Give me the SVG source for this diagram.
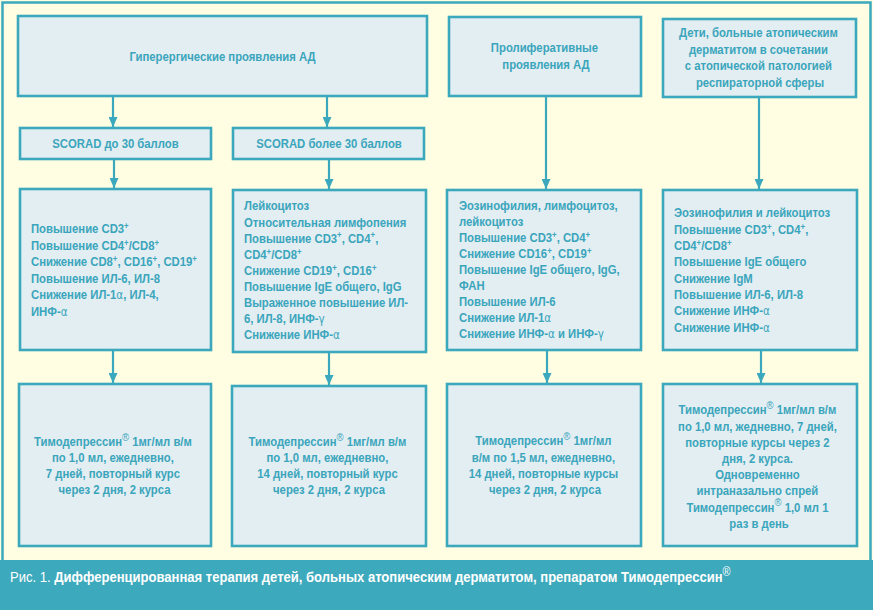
<svg xmlns="http://www.w3.org/2000/svg" width="873" height="610" viewBox="0 0 873 610">
<defs>
<style>
.bg{fill:#FFFEE2}
.frame{fill:none;stroke:#3BA8BD;stroke-width:2.5}
.band{fill:#3DA9BD}
.box{fill:#E3EEF2;stroke:#3BA8BD;stroke-width:2.6}
.t{font-family:"Liberation Sans",Arial,sans-serif;font-weight:bold;font-size:13px;fill:#3AA5BC}
.c{text-anchor:middle}
.sup{font-size:9px;baseline-shift:4px}
.reg{font-size:11px;font-weight:normal;baseline-shift:5px}
.gr{font-family:"DejaVu Sans",sans-serif;font-weight:normal;font-size:12px}
.cap{font-family:"Liberation Sans",Arial,sans-serif;font-size:14.5px;fill:#FFFFFF}
.conn line{stroke:#3BA8BD;stroke-width:2.2}
</style>
<marker id="ah" markerUnits="userSpaceOnUse" markerWidth="10" markerHeight="9" refX="10" refY="4.5" orient="auto">
<path d="M0,0 L10,4.5 L0,9 z" fill="#3BA8BD"/>
</marker>
</defs>
<rect class="bg" x="0" y="0" width="873" height="610"/>
<rect class="frame" x="2.5" y="2.5" width="868" height="560"/>
<rect class="band" x="0" y="560" width="873" height="50"/>

<g id="connectors" class="conn">
<line x1="113" y1="96" x2="113" y2="127" marker-end="url(#ah)"/>
<line x1="327" y1="96" x2="327" y2="127" marker-end="url(#ah)"/>
<line x1="114" y1="159" x2="114" y2="188" marker-end="url(#ah)"/>
<line x1="329" y1="159" x2="329" y2="189" marker-end="url(#ah)"/>
<line x1="546" y1="96" x2="546" y2="189" marker-end="url(#ah)"/>
<line x1="759" y1="97" x2="759" y2="189" marker-end="url(#ah)"/>
<line x1="113" y1="350" x2="113" y2="383" marker-end="url(#ah)"/>
<line x1="329" y1="352" x2="329" y2="385" marker-end="url(#ah)"/>
<line x1="547" y1="350" x2="547" y2="383" marker-end="url(#ah)"/>
<line x1="761" y1="350" x2="761" y2="383" marker-end="url(#ah)"/>
</g>

<g id="n1">
<rect class="box" x="18" y="16" width="409" height="80"/>
<g transform="translate(222.5,0) scale(0.87,1)"><text class="t c" x="0" y="61.5">Гиперергические проявления АД</text></g>
</g>
<g id="n2">
<rect class="box" x="20" y="128" width="191" height="31"/>
<g transform="translate(115.5,0) scale(0.87,1)"><text class="t c" x="0" y="148">SCORAD до 30 баллов</text></g>
</g>
<g id="n3">
<rect class="box" x="233" y="128" width="191" height="31"/>
<g transform="translate(329,0) scale(0.87,1)"><text class="t c" x="0" y="148">SCORAD более 30 баллов</text></g>
</g>
<g id="n8">
<rect class="box" x="449" y="17" width="192" height="79"/>
<g transform="translate(546,0) scale(0.87,1)"><text class="t c">
<tspan x="0" y="52.5">Пролиферативные</tspan>
<tspan x="0" y="69.5">проявления АД</tspan></text></g>
</g>
<g id="n9">
<rect class="box" x="663" y="19" width="193" height="78"/>
<g transform="translate(760,0) scale(0.87,1)"><text class="t c">
<tspan x="0" y="37.5">Дети, больные атопическим</tspan>
<tspan x="0" y="54">дерматитом в сочетании</tspan>
<tspan x="0" y="70.5">с атопической патологией</tspan>
<tspan x="0" y="87">респираторной сферы</tspan></text></g>
</g>

<g id="n4">
<rect class="box" x="20" y="189" width="191" height="161"/>
<g transform="translate(31,0) scale(0.87,1)"><text class="t">
<tspan x="0" y="233.5">Повышение CD3<tspan class="sup">+</tspan></tspan>
<tspan x="0" y="250">Повышение CD4<tspan class="sup">+</tspan>/CD8<tspan class="sup">+</tspan></tspan>
<tspan x="0" y="266.4">Снижение CD8<tspan class="sup">+</tspan>, CD16<tspan class="sup">+</tspan>, CD19<tspan class="sup">+</tspan></tspan>
<tspan x="0" y="282.8">Повышение ИЛ-6, ИЛ-8</tspan>
<tspan x="0" y="299.2">Снижение ИЛ-1<tspan class="gr">α</tspan>, ИЛ-4,</tspan>
<tspan x="0" y="315.6">ИНФ-<tspan class="gr">α</tspan></tspan></text></g>
</g>
<g id="n5">
<rect class="box" x="233" y="190" width="193" height="162"/>
<g transform="translate(244,0) scale(0.87,1)"><text class="t">
<tspan x="0" y="210.5">Лейкоцитоз</tspan>
<tspan x="0" y="226.6">Относительная лимфопения</tspan>
<tspan x="0" y="242.7">Повышение CD3<tspan class="sup">+</tspan>, CD4<tspan class="sup">+</tspan>,</tspan>
<tspan x="0" y="258.8">CD4<tspan class="sup">+</tspan>/CD8<tspan class="sup">+</tspan></tspan>
<tspan x="0" y="274.9">Снижение CD19<tspan class="sup">+</tspan>, CD16<tspan class="sup">+</tspan></tspan>
<tspan x="0" y="291">Повышение IgE общего, IgG</tspan>
<tspan x="0" y="307.1">Выраженное повышение ИЛ-</tspan>
<tspan x="0" y="323.2">6, ИЛ-8, ИНФ-<tspan class="gr">γ</tspan></tspan>
<tspan x="0" y="339.3">Снижение ИНФ-<tspan class="gr">α</tspan></tspan></text></g>
</g>
<g id="n6">
<rect class="box" x="447" y="190" width="194" height="160"/>
<g transform="translate(459,0) scale(0.87,1)"><text class="t">
<tspan x="0" y="210.5">Эозинофилия, лимфоцитоз,</tspan>
<tspan x="0" y="226.5">лейкоцитоз</tspan>
<tspan x="0" y="242.5">Повышение CD3<tspan class="sup">+</tspan>, CD4<tspan class="sup">+</tspan></tspan>
<tspan x="0" y="258.5">Снижение CD16<tspan class="sup">+</tspan>, CD19<tspan class="sup">+</tspan></tspan>
<tspan x="0" y="274.5">Повышение IgE общего, IgG,</tspan>
<tspan x="0" y="290.5">ФАН</tspan>
<tspan x="0" y="306.5">Повышение ИЛ-6</tspan>
<tspan x="0" y="322.5">Снижение ИЛ-1<tspan class="gr">α</tspan></tspan>
<tspan x="0" y="338.5">Снижение ИНФ-<tspan class="gr">α</tspan> и ИНФ-<tspan class="gr">γ</tspan></tspan></text></g>
</g>
<g id="n7">
<rect class="box" x="663" y="190" width="194" height="160"/>
<g transform="translate(674,0) scale(0.87,1)"><text class="t">
<tspan x="0" y="217.5">Эозинофилия и лейкоцитоз</tspan>
<tspan x="0" y="233.8">Повышение CD3<tspan class="sup">+</tspan>, CD4<tspan class="sup">+</tspan>,</tspan>
<tspan x="0" y="250.1">CD4<tspan class="sup">+</tspan>/CD8<tspan class="sup">+</tspan></tspan>
<tspan x="0" y="266.4">Повышение IgE общего</tspan>
<tspan x="0" y="282.7">Снижение IgM</tspan>
<tspan x="0" y="299">Повышение ИЛ-6, ИЛ-8</tspan>
<tspan x="0" y="315.3">Снижение ИНФ-<tspan class="gr">α</tspan></tspan>
<tspan x="0" y="331.6">Снижение ИНФ-<tspan class="gr">α</tspan></tspan></text></g>
</g>

<g id="n10">
<rect class="box" x="19" y="384" width="192" height="162"/>
<g transform="translate(114.5,0) scale(0.87,1)"><text class="t c">
<tspan x="0" y="446.5">Тимодепрессин<tspan class="reg">®</tspan> 1мг/мл в/м</tspan>
<tspan x="0" y="462.5">по 1,0 мл, ежедневно,</tspan>
<tspan x="0" y="478.5">7 дней, повторный курс</tspan>
<tspan x="0" y="494.5">через 2 дня, 2 курса</tspan></text></g>
</g>
<g id="n11">
<rect class="box" x="232" y="386" width="194" height="160"/>
<g transform="translate(329,0) scale(0.87,1)"><text class="t c">
<tspan x="0" y="446.5">Тимодепрессин<tspan class="reg">®</tspan> 1мг/мл в/м</tspan>
<tspan x="0" y="462.5">по 1,0 мл, ежедневно,</tspan>
<tspan x="0" y="478.5">14 дней, повторный курс</tspan>
<tspan x="0" y="494.5">через 2 дня, 2 курса</tspan></text></g>
</g>
<g id="n12">
<rect class="box" x="447" y="384" width="194" height="162"/>
<g transform="translate(545,0) scale(0.87,1)"><text class="t c">
<tspan x="0" y="445.5">Тимодепрессин<tspan class="reg">®</tspan> 1мг/мл</tspan>
<tspan x="0" y="462">в/м по 1,5 мл, ежедневно,</tspan>
<tspan x="0" y="478">14 дней, повторные курсы</tspan>
<tspan x="0" y="494">через 2 дня, 2 курса</tspan></text></g>
</g>
<g id="n13">
<rect class="box" x="663" y="384" width="194" height="162"/>
<g transform="translate(759,0) scale(0.87,1)"><text class="t c">
<tspan x="0" y="414.5">Тимодепрессин<tspan class="reg">®</tspan> 1мг/мл в/м</tspan>
<tspan x="0" y="430.7">по 1,0 мл, жедневно, 7 дней,</tspan>
<tspan x="0" y="446.9">повторные курсы через 2</tspan>
<tspan x="0" y="463.1">дня, 2 курса.</tspan>
<tspan x="0" y="479.3">Одновременно</tspan>
<tspan x="0" y="495.5">интраназально спрей</tspan>
<tspan x="0" y="511.7">Тимодепрессин<tspan class="reg">®</tspan> 1,0 мл 1</tspan>
<tspan x="0" y="527.9">раз в день</tspan></text></g>
</g>

<g id="caption" transform="translate(10,0) scale(0.9,1)">
<text class="cap" x="0" y="582">Рис. 1. <tspan font-weight="bold">Дифференцированная терапия детей, больных атопическим дерматитом, препаратом Тимодепрессин</tspan><tspan font-size="12px" baseline-shift="6px">®</tspan></text>
</g>
</svg>
